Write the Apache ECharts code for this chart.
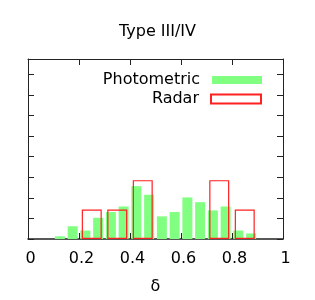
<!DOCTYPE html>
<html>
<head>
<meta charset="utf-8">
<script src="https://cdn.jsdelivr.net/npm/echarts@6/dist/echarts.min.js"></script>
<style>
  html, body { margin: 0; padding: 0; background: #fff; }
  #main { width: 315px; height: 300px; }
</style>
</head>
<body>
<div id="main"></div>
<script>
// bin centres (delta) and normalised heights
var photoX = [0.125, 0.175, 0.225, 0.275, 0.325, 0.375, 0.425, 0.475,
              0.525, 0.575, 0.625, 0.675, 0.725, 0.775, 0.825, 0.875];
var photoY = [0.13, 0.62, 0.41, 1.03, 1.31, 1.58, 2.57, 2.15,
              1.10, 1.31, 2.02, 1.79, 1.39, 1.58, 0.41, 0.27];
var radarX = [0.25, 0.35, 0.45, 0.75, 0.85];
var radarY = [1.43, 1.43, 2.86, 2.86, 1.43];
var xTicks = [0, 0.2, 0.4, 0.6, 0.8, 1];

var font = 'DejaVu Sans';
var myChart = echarts.init(document.getElementById('main'));

function pairs(xs, ys) {
    return xs.map(function (x, i) { return [x, ys[i]]; });
}

var tickStyle = { show: true, inside: true, length: 6, lineStyle: { color: '#222', width: 1 } };

option = {
    animation: false,
    title: {
        text: 'Type III/IV',
        left: 'center',
        top: 24,
        padding: 0,
        textStyle: { fontFamily: font, fontSize: 16, fontWeight: 'normal', color: '#000' }
    },
    legend: [
        {
            data: ['Photometric'],
            right: 53, top: 72, padding: 0,
            align: 'right', icon: 'rect',
            itemWidth: 50, itemHeight: 8,
            textStyle: { fontFamily: font, fontSize: 16, color: '#000', padding: [0, 7, 0, 0] }
        },
        {
            data: ['Radar'],
            right: 53, top: 91, padding: 0,
            align: 'right', icon: 'rect',
            itemWidth: 50, itemHeight: 9,
            textStyle: { fontFamily: font, fontSize: 16, color: '#000', padding: [0, 7, 0, 0] }
        }
    ],
    grid: { left: 28, right: 32, top: 59, bottom: 61, show: false },
    xAxis: [
        {
            type: 'value', min: 0, max: 1, interval: 0.2, position: 'bottom',
            name: 'δ', nameLocation: 'middle', nameGap: 40,
            nameTextStyle: { fontFamily: font, fontSize: 16, color: '#000' },
            axisLine: { show: true, onZero: false, lineStyle: { color: '#222', width: 1.5 } },
            axisTick: tickStyle,
            axisLabel: {
                fontFamily: font, fontSize: 16, color: '#000', margin: 12,
                padding: [0, 0, 0, 5],
                formatter: function (v) {
                    return xTicks.indexOf(Math.round(v * 10) / 10) >= 0 ? String(Math.round(v * 10) / 10) : '';
                }
            },
            splitLine: { show: false }
        },
        {
            type: 'value', min: 0, max: 1, interval: 0.2, position: 'top',
            axisLine: { show: true, onZero: false, lineStyle: { color: '#222', width: 1 } },
            axisTick: tickStyle,
            axisLabel: { show: false },
            splitLine: { show: false }
        }
    ],
    yAxis: [
        {
            type: 'value', min: 0, max: 8.75, interval: 1, position: 'left',
            axisLine: { show: true, onZero: false, lineStyle: { color: '#222', width: 1 } },
            axisTick: tickStyle,
            axisLabel: { show: false },
            splitLine: { show: false }
        },
        {
            type: 'value', min: 0, max: 8.75, interval: 1, position: 'right',
            axisLine: { show: true, onZero: false, lineStyle: { color: '#222', width: 1 } },
            axisTick: tickStyle,
            axisLabel: { show: false },
            splitLine: { show: false }
        }
    ],
    series: [
        {
            name: 'Photometric',
            type: 'bar',
            xAxisIndex: 0, yAxisIndex: 0,
            barWidth: 10,
            itemStyle: { color: '#80ff80' },
            data: pairs(photoX, photoY),
            z: 3
        },
        {
            name: 'Radar',
            type: 'bar',
            xAxisIndex: 1, yAxisIndex: 0,
            barWidth: 20,
            itemStyle: { color: 'rgba(0,0,0,0)', borderColor: '#ff2020', borderWidth: 1.2 },
            data: pairs(radarX, radarY),
            z: 4
        }
    ]
};

myChart.setOption(option);
</script>
</body>
</html>
